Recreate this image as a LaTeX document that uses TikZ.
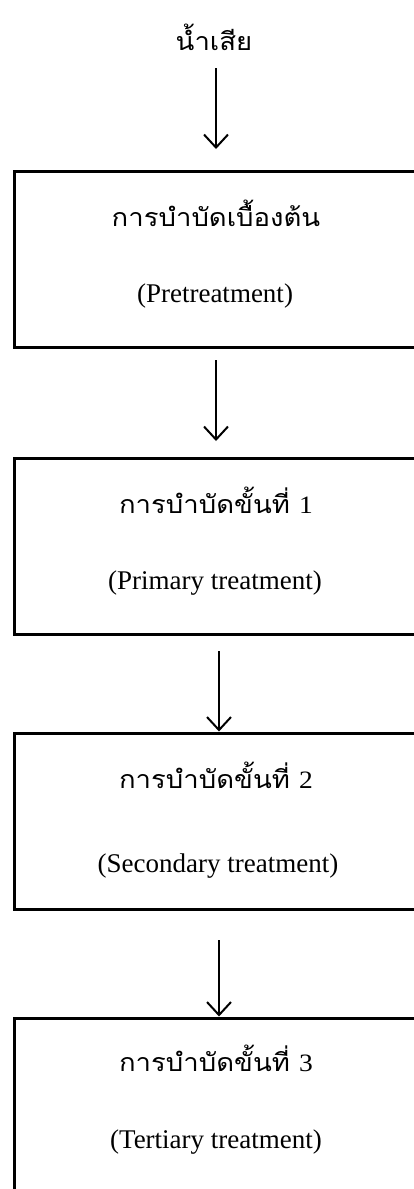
\documentclass[tikz,border=0pt]{standalone}
\usepackage{fontspec}
\setmainfont{Liberation Serif}
\newfontfamily\thaifont[Script=Thai]{Loma}
\usetikzlibrary{arrows.meta}
\begin{document}
\begin{tikzpicture}[x=1pt,y=-1pt,
  stagebox/.style={draw,line width=3pt,rectangle,minimum width=406pt,minimum height=176pt,inner sep=0pt},
  thaitxt/.style={font=\thaifont\fontsize{25}{28}\selectfont,inner sep=0pt,xscale=1.1},
  engtxt/.style={font=\fontsize{27}{30}\selectfont,inner sep=0pt},
  flow/.style={line width=2pt,-{Straight Barb[length=13pt,width=24pt,line width=2pt]}}]
\useasboundingbox (0,0) rectangle (413,1189);
\node[thaitxt] (src) at (214,37) {น้ำเสีย};
\node[stagebox] (b1) at (217,259) {};
\node[stagebox] (b2) at (217,546) {};
\node[stagebox] (b3) at (217,821) {};
\node[stagebox,minimum height=190pt] (b4) at (217,1113) {};
\node[thaitxt] (t1) at (216,213) {การบำบัดเบื้องต้น};
\node[engtxt] (e1) at (215,296) {(Pretreatment)};
\node[thaitxt] (t2) at (216,500) {การบำบัดขั้นที่ {\rmfamily 1}};
\node[engtxt] (e2) at (215,583) {(Primary treatment)};
\node[thaitxt] (t3) at (216,775) {การบำบัดขั้นที่ {\rmfamily 2}};
\node[engtxt] (e3) at (218,866) {(Secondary treatment)};
\node[thaitxt] (t4) at (216,1058) {การบำบัดขั้นที่ {\rmfamily 3}};
\node[engtxt] (e4) at (216,1142) {(Tertiary treatment)};
\coordinate (a1s) at (216,68);
\coordinate (a1e) at (216,149);
\coordinate (a2s) at (216,360);
\coordinate (a2e) at (216,441);
\coordinate (a3s) at (219,651);
\coordinate (a4s) at (219,940);
\draw[flow] (a1s) -- (a1e);
\draw[flow] (a2s) -- (a2e);
\draw[flow] (a3s) -- (a3s |- b3.north);
\draw[flow] (a4s) -- (a4s |- b4.north);
\end{tikzpicture}
\end{document}
